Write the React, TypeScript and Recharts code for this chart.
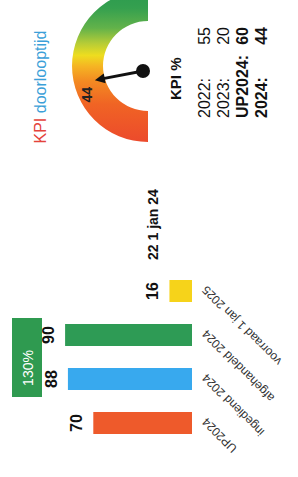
import React from 'react';
import { BarChart, Bar, XAxis, YAxis, Cell, LabelList, PieChart, Pie } from 'recharts';

// ---- data ----
const categories = ['UP2024', 'ingediend 2024', 'afgehandeld 2024', 'voorraad 1 jan 2025'];
const values = [70, 88, 90, 16];
const barColors = ['#ee5a2b', '#38a9ee', '#2e9b55', '#f6d31a'];
const prevStockValue = 22;
const prevStockLabel = '1 jan 24';
const ratioLabel = '130%';

const gaugeTitleRed = 'KPI';
const gaugeTitleBlue = 'doorlooptijd';
const gaugeValue = 44;
const gaugeMax = 100;

const kpiTitle = 'KPI %';
const kpiLabels = ['2022:', '2023:', 'UP2024:', '2024:'];
const kpiValues = [55, 20, 60, 44];
const kpiBold = [false, false, true, true];

const barData = categories.map((name, i) => ({ name, value: values[i] }));
const gaugeData = [{ name: 'scale', value: gaugeMax }];

const FONT = '"Liberation Sans", Arial, sans-serif';

// gauge geometry
const G_CX = 106;
const G_CY = 143;
const G_IN = 45;
const G_OUT = 76;

const CatTick = (props: any) => {
  const { x, y, payload } = props;
  const px = x + 3;
  const py = y + 4;
  return (
    <text
      x={px}
      y={py}
      dy="0.35em"
      transform={`rotate(-45, ${px}, ${py})`}
      textAnchor="end"
      fontSize={12}
      fill="#333"
      fontFamily={FONT}
    >
      {payload.value}
    </text>
  );
};

const PrevLabel = (props: any) => {
  const { x, y, width, index } = props;
  if (index !== categories.length - 1) return null;
  return (
    <text x={x + width + 20} y={y - 11} fontSize={14} fontWeight="bold" fill="#111" fontFamily={FONT}>
      {`${prevStockValue} ${prevStockLabel}`}
    </text>
  );
};

const Needle = () => {
  const ang = ((180 - (gaugeValue / gaugeMax) * 180) * Math.PI) / 180;
  const ux = Math.cos(ang);
  const uy = -Math.sin(ang);
  const px = -uy;
  const py = ux;
  const tipR = 49;
  const baseR = 39;
  const tip = [G_CX + ux * tipR, G_CY + uy * tipR];
  const b1 = [G_CX + ux * baseR + px * 5, G_CY + uy * baseR + py * 5];
  const b2 = [G_CX + ux * baseR - px * 5, G_CY + uy * baseR - py * 5];
  const lang = ang + (12 * Math.PI) / 180;
  const lr = 61;
  const lx = G_CX + Math.cos(lang) * lr;
  const ly = G_CY - Math.sin(lang) * lr;
  return (
    <g>
      <line x1={G_CX} y1={G_CY} x2={G_CX + ux * 42} y2={G_CY + uy * 42} stroke="#111" strokeWidth={3} />
      <polygon points={`${tip[0]},${tip[1]} ${b1[0]},${b1[1]} ${b2[0]},${b2[1]}`} fill="#111" />
      <circle cx={G_CX} cy={G_CY} r={7} fill="#111" />
      <text x={lx} y={ly} dy="0.35em" textAnchor="middle" fontSize={14} fontWeight="bold" fill="#222" fontFamily={FONT}>
        {gaugeValue}
      </text>
    </g>
  );
};

export default function App() {
  return (
    <div style={{ position: 'fixed', left: 0, top: 0, width: 298, height: 477, overflow: 'hidden', background: '#fff' }}>
      <div
        style={{
          position: 'absolute',
          left: 0,
          top: 477,
          width: 477,
          height: 298,
          transform: 'rotate(-90deg)',
          transformOrigin: '0 0',
          fontFamily: FONT,
        }}
      >
        <div style={{ position: 'absolute', left: 0, top: 0 }}>
          <BarChart width={300} height={298} data={barData} margin={{ top: 51, right: 92, left: 32, bottom: 6 }}>
            <XAxis dataKey="name" axisLine={false} tickLine={false} interval={0} height={100} tick={<CatTick />} />
            <YAxis hide domain={[0, 100]} />
            <Bar dataKey="value" barSize={22} isAnimationActive={false}>
              {barData.map((d, i) => (
                <Cell key={d.name} fill={barColors[i]} />
              ))}
              <LabelList dataKey="value" position="top" offset={11} fontSize={16} fontWeight="bold" fill="#111" fontFamily={FONT} />
              <LabelList dataKey="value" content={<PrevLabel />} />
            </Bar>
          </BarChart>
        </div>
        <div style={{ position: 'absolute', left: 300, top: 0 }}>
          <PieChart width={177} height={298}>
            <defs>
              <linearGradient id="gaugeGrad" x1="0" y1="0" x2="1" y2="0">
                <stop offset="0" stopColor="#ec4a2c" />
                <stop offset="0.25" stopColor="#f06424" />
                <stop offset="0.4" stopColor="#f38a22" />
                <stop offset="0.5" stopColor="#f5b523" />
                <stop offset="0.57" stopColor="#eedd1f" />
                <stop offset="0.65" stopColor="#b5cc37" />
                <stop offset="0.75" stopColor="#62b24a" />
                <stop offset="0.88" stopColor="#35a04f" />
                <stop offset="1" stopColor="#2a9a4f" />
              </linearGradient>
            </defs>
            <Pie
              data={gaugeData}
              dataKey="value"
              cx={G_CX}
              cy={G_CY}
              startAngle={180}
              endAngle={0}
              innerRadius={G_IN}
              outerRadius={G_OUT}
              stroke="none"
              fill="url(#gaugeGrad)"
              isAnimationActive={false}
            >
              <Cell fill="url(#gaugeGrad)" />
            </Pie>
          </PieChart>
        </div>
        <svg width={177} height={298} style={{ position: 'absolute', left: 300, top: 0, pointerEvents: 'none' }}>
          <Needle />
        </svg>
        <svg width={477} height={298} style={{ position: 'absolute', left: 0, top: 0, pointerEvents: 'none' }}>
          <rect x={80} y={12} width={79} height={30} fill="#2f9a50" />
          <text x={109} y={33} textAnchor="middle" fontSize={14} fill="#fff" fontFamily={FONT}>
            {ratioLabel}
          </text>
          <text x={390} y={46} textAnchor="middle" fontSize={16} fontFamily={FONT}>
            <tspan fill="#e4433b">{gaugeTitleRed}</tspan>
            <tspan fill="#3b9fd8">{' ' + gaugeTitleBlue}</tspan>
          </text>
          <text x={377} y={181} fontSize={15} fontWeight="bold" fill="#111" fontFamily={FONT}>
            {kpiTitle}
          </text>
          {kpiLabels.map((lab, i) => (
            <g key={lab}>
              <text x={359} y={210 + i * 19} fontSize={16} fontWeight={kpiBold[i] ? 'bold' : 'normal'} fill="#111" fontFamily={FONT}>
                {lab}
              </text>
              <text x={450} y={210 + i * 19} textAnchor="end" fontSize={16} fontWeight={kpiBold[i] ? 'bold' : 'normal'} fill="#111" fontFamily={FONT}>
                {kpiValues[i]}
              </text>
            </g>
          ))}
        </svg>
      </div>
    </div>
  );
}
